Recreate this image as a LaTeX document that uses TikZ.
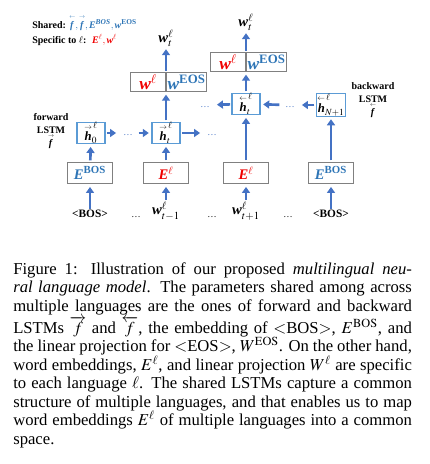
\documentclass[tikz,border=0pt]{standalone}
\usepackage{amsmath}
\usepackage{mathptmx}
\usepackage{fontspec}
\setmainfont{Liberation Serif}
\usepackage{xcolor}
\usepackage{tikz}
\usetikzlibrary{arrows.meta, positioning, calc}
\definecolor{sharedblue}{RGB}{46, 117, 182}
\definecolor{arrowblue}{RGB}{68, 114, 196}
\definecolor{lstmblue}{RGB}{91, 155, 213}
\definecolor{specred}{RGB}{240, 0, 0}
\definecolor{boxgray}{RGB}{128, 128, 128}
\newcommand{\bi}[1]{\textbf{\textit{#1}}}
\newcommand{\fwd}[1]{\overset{\scriptscriptstyle\rightarrow}{#1}}
\newcommand{\bwd}[1]{\overset{\scriptscriptstyle\leftarrow}{#1}}

\begin{document}
\begin{tikzpicture}[x=0.75pt, y=-0.75pt,
    embbox/.style={draw=boxgray, line width=0.9pt, fill=white, minimum width=34pt,
                   minimum height=16pt, inner sep=0pt, font=\fontsize{11}{12}\selectfont},
    lstmbox/.style={draw=lstmblue, line width=0.8pt, fill=white, minimum width=21pt,
                    minimum height=15pt, inner sep=0pt, font=\fontsize{9.5}{10}\selectfont},
    projpart/.style={draw=boxgray, line width=0.9pt, minimum height=14pt, inner sep=0pt,
                     font=\fontsize{13}{14}\selectfont},
    flow/.style={draw=arrowblue, line width=2pt, shorten <=1pt, shorten >=2pt,
                 -{Triangle[width=6pt, length=4.5pt]}},
    dotsnode/.style={inner sep=0pt, minimum width=13.5pt, text height=5pt, text depth=1.5pt,
                     font=\fontsize{7}{8}\selectfont},
    token/.style={inner sep=0pt, font=\fontsize{8.5}{9}\selectfont\bfseries},
    word/.style={inner sep=0pt, font=\fontsize{11}{12}\selectfont},
    lstmnote/.style={inner sep=0pt, align=center, font=\fontsize{7.5}{9.5}\selectfont\bfseries}]

    \useasboundingbox (0,0) rectangle (429,464);

    % legend
    \node[anchor=base west, inner sep=0pt, font=\fontsize{7.5}{8}\selectfont] (shared) at (32,28)
        {\textbf{Shared:} {\color{sharedblue}$\bwd{\bi{f}}, \fwd{\bi{f}}, \bi{E}^{\bi{BOS}}, \bi{w}^{\textbf{EOS}}$}};
    \node[anchor=base west, inner sep=0pt, font=\fontsize{7.5}{8}\selectfont] (specific) at (32,43)
        {\textbf{Specific to $\ell$:} \ {\color{specred}$\bi{E}^{\ell}, \bi{w}^{\ell}$}};

    % LSTM states
    \node[lstmbox] (hf0) at (91,133) {$\fwd{\bi{h}}_{0}^{\,\ell}$};
    \node[lstmbox] (hft) at (166,133) {$\fwd{\bi{h}}_{t}^{\,\ell}$};
    \node[lstmbox] (hbt) at (246,104) {$\bwd{\bi{h}}_{t}^{\,\ell}$};
    \node[lstmbox, minimum width=22pt] (hbn) at (331,105) {$\bwd{\bi{h}}_{N+1}^{\,\ell}$};

    % embeddings
    \node[embbox] (eb1) at (90,173) {\color{sharedblue}$\bi{E}^{\textbf{BOS}}$};
    \node[embbox] (el1) at (166,173) {\color{specred}$\bi{E}^{\ell}$};
    \node[embbox] (el2) at (246,173) {\color{specred}$\bi{E}^{\ell}$};
    \node[embbox] (eb2) at (331,173) {\color{sharedblue}$\bi{E}^{\textbf{BOS}}$};

    % projections
    \node[projpart, minimum width=26pt, anchor=south east] (wl1) at (166,92) {\color{specred}$\bi{w}^{\ell}$};
    \node[projpart, minimum width=30pt, right=0pt of wl1] (we1) {\color{sharedblue}$\bi{w}^{\textbf{EOS}}$};
    \node[projpart, minimum width=26pt, anchor=south east] (wl2) at (246,72) {\color{specred}$\bi{w}^{\ell}$};
    \node[projpart, minimum width=30pt, right=0pt of wl2] (we2) {\color{sharedblue}$\bi{w}^{\textbf{EOS}}$};

    % outputs and inputs
    \node[word] (out1) at (166,38) {$\bi{w}_{t}^{\ell}$};
    \node[word] (out2) at (246,22) {$\bi{w}_{t}^{\ell}$};
    \node[token] (in1) at (90,214) {<BOS>};
    \node[word] (in2) at (166,211) {$\bi{w}_{t-1}^{\ell}$};
    \node[word] (in3) at (246,211) {$\bi{w}_{t+1}^{\ell}$};
    \node[token] (in4) at (331,214) {<BOS>};

    % dots
    \node[dotsnode, text=arrowblue] (fd1) at (128,133) {\dots};
    \node[dotsnode, text=arrowblue] (fd2) at (212,133) {\dots};
    \node[dotsnode, text=arrowblue] (bd1) at (290,105) {\dots};
    \node[dotsnode, text=arrowblue] (bd2) at (205,105) {\dots};
    \node[dotsnode] (id1) at (136,215) {\dots};
    \node[dotsnode] (id2) at (212,215) {\dots};
    \node[dotsnode] (id3) at (288,215) {\dots};

    % LSTM notes
    \node[lstmnote] (fwdnote) at (51,131) {forward\\LSTM\\$\fwd{\bi{f}}$};
    \node[lstmnote] (bwdnote) at (373,100) {backward\\LSTM\\$\bwd{\bi{f}}$};

    % connectors
    \draw[flow] (in1) -- (eb1);
    \draw[flow] (in2) -- (el1);
    \draw[flow] (in3) -- (el2);
    \draw[flow] (in4) -- (eb2);
    \draw[flow] (eb1) -- (hf0);
    \draw[flow] (el1) -- (hft);
    \draw[flow] (el2) -- (hbt);
    \draw[flow] (eb2) -- (hbn);
    \draw[flow] (hf0) -- (fd1);
    \draw[flow] (fd1) -- (hft);
    \draw[flow] (hft) -- (fd2);
    \draw[flow] (hbn) -- (bd1);
    \draw[flow] (bd1) -- (hbt);
    \draw[flow] (hbt) -- (bd2);
    \draw[flow] (hft) -- (wl1.south east);
    \draw[flow] (hbt) -- (wl2.south east);
    \draw[flow] (wl1.north east) -- (out1);
    \draw[flow] (wl2.north east) -- (out2);

    % caption
    \node[anchor=north west, inner sep=0pt, text width=299pt, align=justify,
          font=\fontsize{12.5}{13.9}\selectfont] (caption) at (13,262) {Figure 1: Illustration of our
        proposed \textit{multilingual neu-\linebreak ral language model}. The parameters shared among
        across\linebreak multiple languages are the ones of forward and backward\linebreak LSTMs
        $\overrightarrow{f}$ and $\overleftarrow{f}$, the embedding of $<$BOS$>$, $E^{\mathrm{BOS}}$,
        and\linebreak the linear projection for $<$EOS$>$, $W^{\mathrm{EOS}}$. On the other
        hand,\linebreak word embeddings, $E^{\ell}$, and linear projection $W^{\ell}$ are
        specific\linebreak to each language $\ell$. The shared LSTMs capture a common\linebreak
        structure of multiple languages, and that enables us to map\linebreak word embeddings
        $E^{\ell}$ of multiple languages into a common\linebreak space.};
\end{tikzpicture}
\end{document}
